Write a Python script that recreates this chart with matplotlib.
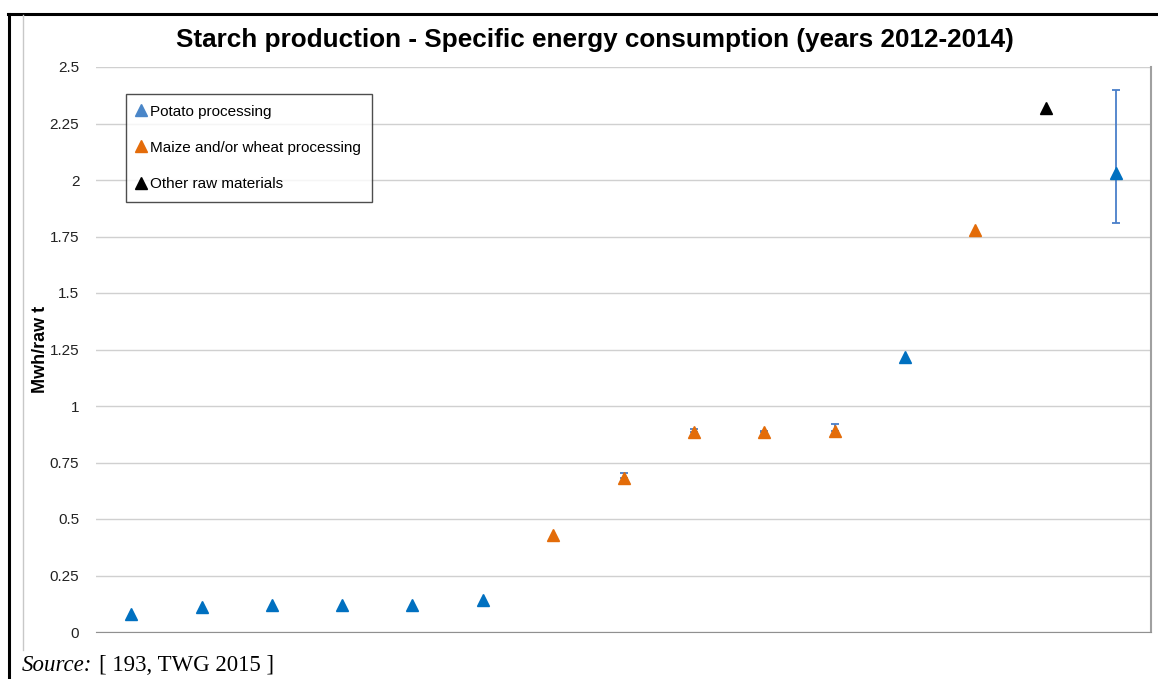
# Starch production - specific energy consumption scatter with error bars
import matplotlib.pyplot as plt
from matplotlib.lines import Line2D

plt.rcParams['font.family'] = ['Liberation Sans', 'DejaVu Sans']

installations = list(range(1, 16))
energy = [0.08, 0.11, 0.12, 0.12, 0.12, 0.14, 0.43, 0.68, 0.885, 0.885, 0.89,
          1.215, 1.78, 2.32, 2.03]
groups = ['potato'] * 6 + ['maize'] * 5 + ['potato', 'maize', 'other', 'potato']
err_low = [0, 0, 0, 0, 0, 0, 0, 0, 0, 0, 0, 0, 0, 0, 0.22]
err_high = [0, 0, 0, 0, 0, 0, 0, 0.025, 0.012, 0.005, 0.03, 0, 0, 0, 0.37]

colors = {'potato': '#0070C0', 'maize': '#E36C09', 'other': '#000000'}
legend_colors = {'potato': '#4A86C8', 'maize': '#E46C0A', 'other': '#000000'}
labels = {'potato': 'Potato processing',
          'maize': 'Maize and/or wheat processing',
          'other': 'Other raw materials'}

fig = plt.figure(figsize=(11.58, 6.79), dpi=100)
ax = fig.add_axes([96 / 1158, 1 - 632 / 679, 1055 / 1158, 565 / 679])

# error bars first (blue, thin, capped)
for x, y, lo, hi in zip(installations, energy, err_low, err_high):
    if lo or hi:
        ax.errorbar([x], [y], yerr=[[lo], [hi]], fmt='none', ecolor='#4A7FC9',
                    elinewidth=1.3, capsize=3, capthick=1.3, zorder=2)

for g in ['potato', 'maize', 'other']:
    xs = [x for x, gg in zip(installations, groups) if gg == g]
    ys = [y for y, gg in zip(energy, groups) if gg == g]
    ax.plot(xs, ys, '^', color=colors[g], markersize=8, linestyle='none', zorder=3)

ax.set_xlim(0.5, 15.5)
ax.set_ylim(0, 2.5)
ax.set_yticks([0, 0.25, 0.5, 0.75, 1, 1.25, 1.5, 1.75, 2, 2.25, 2.5])
ax.set_yticklabels(['0', '0.25', '0.5', '0.75', '1', '1.25', '1.5', '1.75', '2',
                    '2.25', '2.5'], fontsize=11, color='#222222')
ax.set_xticks([])
ax.tick_params(axis='y', length=0, pad=12)
ax.grid(axis='y', color='#D0D0D0', linewidth=1)
ax.set_axisbelow(True)
for side in ['left', 'top']:
    ax.spines[side].set_visible(False)
ax.spines['bottom'].set_color('#909090')
ax.spines['right'].set_color('#A0A0A0')
ax.spines['right'].set_linewidth(1.5)

ax.set_ylabel('Mwh/raw t', fontsize=13, fontweight='bold')
ax.yaxis.set_label_coords((49 - 96) / 1055, 0.5)

handles = [Line2D([], [], marker='^', color=legend_colors[g], linestyle='none',
                  markersize=8) for g in ['potato', 'maize', 'other']]
leg = ax.legend(handles, [labels[g] for g in ['potato', 'maize', 'other']],
                loc='upper left', bbox_to_anchor=(30 / 1055, 1 - 27 / 565),
                fontsize=11, frameon=True, fancybox=False, handlelength=0.6,
                handletextpad=0.3, labelspacing=1.45, borderpad=0.7,
                borderaxespad=0)
leg.get_frame().set_edgecolor('#222222')
leg.get_frame().set_linewidth(1)

fig.text(595 / 1158, 1 - 40 / 679,
         'Starch production - Specific energy consumption (years 2012-2014)',
         ha='center', va='center', fontsize=18.8, fontweight='bold')

# outer frame of the page: thick black top and left border, gray chart area edge
fig.add_artist(Line2D([8 / 1158, 1], [1 - 14 / 679, 1 - 14 / 679],
                      color='black', linewidth=2.2))
fig.add_artist(Line2D([9 / 1158, 9 / 1158], [0, 1 - 14 / 679],
                      color='black', linewidth=2.2))
fig.add_artist(Line2D([23 / 1158, 23 / 1158], [1 - 650 / 679, 1 - 15 / 679],
                      color='#C8C8C8', linewidth=1))

fig.text(22 / 1158, 3 / 679, 'Source:', fontsize=16.5, style='italic',
         family='Liberation Serif', va='bottom')
fig.text(99 / 1158, 3 / 679, '[ 193, TWG 2015 ]', fontsize=16.5,
         family='Liberation Serif', va='bottom')

plt.savefig('out.png', dpi=100)
